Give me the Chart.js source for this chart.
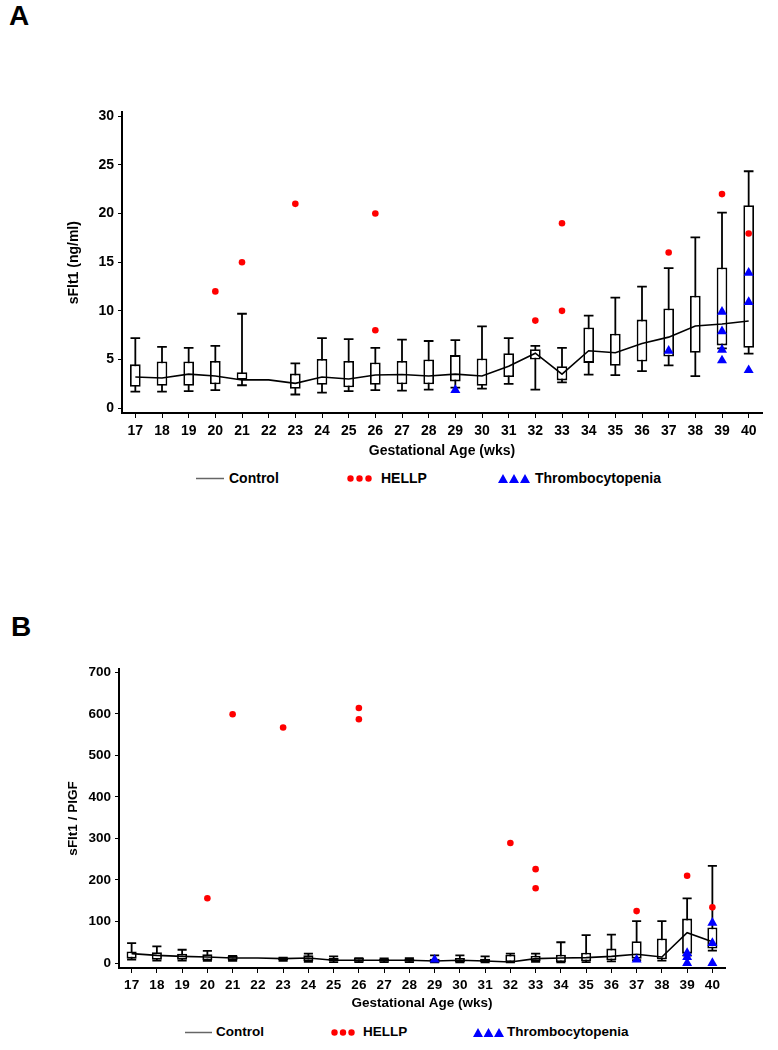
<!DOCTYPE html>
<html>
<head>
<meta charset="utf-8">
<script src="https://cdn.jsdelivr.net/npm/chart.js@4.4.1/dist/chart.umd.min.js"></script>
<style>
  body { margin: 0; background: #fff; width: 778px; height: 1050px; position: relative; font-family: "Liberation Sans", Arial, sans-serif; }
  .panel { position: absolute; font-weight: bold; font-size: 28px; color: #000; }
  canvas { position: absolute; }
  .legend { position: absolute; left: 0; width: 778px; height: 20px; font-weight: bold; color: #000; white-space: nowrap; }
  .legend span, .legend svg { position: absolute; top: 0; }
</style>
</head>
<body>
<div class="panel" style="left:9px;top:0px;">A</div>
<div class="panel" style="left:11px;top:611px;">B</div>

<canvas id="chartA" width="710" height="365" style="left:60px;top:100px;"></canvas>
<canvas id="chartB" width="680" height="360" style="left:60px;top:655px;"></canvas>

<div class="legend" style="top:470px;font-size:14px;">
  <svg style="left:196px;" width="28" height="17"><line x1="0" y1="8.5" x2="28" y2="8.5" stroke="#666" stroke-width="1.5"/></svg>
  <span style="left:229px;">Control</span>
  <svg style="left:347px;" width="28" height="17"><circle cx="3.5" cy="8.5" r="3.2" fill="#f00"/><circle cx="12.5" cy="8.5" r="3.2" fill="#f00"/><circle cx="21.5" cy="8.5" r="3.2" fill="#f00"/></svg>
  <span style="left:381px;">HELLP</span>
  <svg style="left:498px;" width="34" height="17"><path d="M0 13 L5 4 L10 13 Z M11 13 L16 4 L21 13 Z M22 13 L27 4 L32 13 Z" fill="#00f"/></svg>
  <span style="left:535px;">Thrombocytopenia</span>
</div>
<div class="legend" style="top:1024px;font-size:13.5px;">
  <svg style="left:185px;" width="28" height="17"><line x1="0" y1="8.5" x2="27" y2="8.5" stroke="#666" stroke-width="1.5"/></svg>
  <span style="left:216px;">Control</span>
  <svg style="left:331px;" width="28" height="17"><circle cx="3.5" cy="8.5" r="3.2" fill="#f00"/><circle cx="12" cy="8.5" r="3.2" fill="#f00"/><circle cx="20.5" cy="8.5" r="3.2" fill="#f00"/></svg>
  <span style="left:363px;">HELLP</span>
  <svg style="left:473px;" width="34" height="17"><path d="M0 13 L5 4 L10 13 Z M10.5 13 L15.5 4 L20.5 13 Z M21 13 L26 4 L31 13 Z" fill="#00f"/></svg>
  <span style="left:507px;">Thrombocytopenia</span>
</div>

<script>
const weeks = ['17','18','19','20','21','22','23','24','25','26','27','28','29','30','31','32','33','34','35','36','37','38','39','40'];

// panel A: sFlt1 (ng/ml)
const aWhiskerLow  = [1.7, 1.7, 1.75, 1.85, 2.35, null, 1.4, 1.6, 1.75, 1.85, 1.8, 1.9, 2.1, 2.0, 2.5, 1.9, 2.65, 3.45, 3.4, 3.8, 4.4, 3.3, 6.15, 5.6];
const aQ1          = [2.2, 2.3, 2.3, 2.45, 2.9, null, 2.0, 2.4, 2.15, 2.4, 2.45, 2.45, 2.75, 2.3, 3.2, 5.0, 2.85, 4.65, 4.35, 4.8, 5.3, 5.7, 6.45, 6.2];
const aQ3          = [4.5, 4.8, 4.8, 4.85, 3.7, null, 3.55, 5.05, 4.85, 4.7, 4.85, 5.0, 5.45, 5.1, 5.65, 6.05, 4.3, 8.3, 7.65, 9.1, 10.25, 11.55, 14.45, 20.85];
const aWhiskerHigh = [7.2, 6.3, 6.2, 6.4, 9.7, null, 4.6, 7.2, 7.1, 6.2, 7.05, 6.9, 7.0, 8.4, 7.2, 6.4, 6.2, 9.5, 11.35, 12.5, 14.4, 17.55, 20.1, 24.35];
const aControl     = [3.2, 3.1, 3.5, 3.3, 2.9, 2.9, 2.55, 3.2, 3.0, 3.4, 3.45, 3.3, 3.5, 3.3, 4.3, 5.65, 3.5, 5.9, 5.7, 6.65, 7.3, 8.45, 8.65, 8.95];
const aHellpWeek   = ['20', '21', '23', '26', '26', '32', '33', '33', '37', '39', '40'];
const aHellpValue  = [12, 15, 21, 20, 8, 9, 19, 10, 16, 22, 17.95];
const aThrombWeek  = ['29', '37', '39', '39', '39', '39', '40', '40', '40'];
const aThrombValue = [1.85, 5.9, 9.9, 7.9, 6.0, 4.9, 13.9, 10.9, 3.9];
const aTicks = [0, 5, 10, 15, 20, 25, 30];

// panel B: sFlt1 / PlGF
const bWhiskerLow  = [8, 6, 6, 5, 5, null, 5, 3, 2, 2, 2, 2, 1.5, 1.5, 1.5, 1.5, 3, 1.5, 2, 4, 7, 6, 18, 30];
const bQ1          = [10.5, 8, 8, 6.5, 6.5, null, 6.5, 5, 4, 3, 3, 3, 2.5, 2.5, 2.5, 2.5, 5, 2.5, 4, 6.5, 10.5, 9, 22.5, 34.7];
const bQ3          = [28, 26, 22.5, 21, 17, null, 13, 18.5, 12, 12, 10, 10, 10.5, 12, 10.5, 20, 17.7, 20, 25, 34.7, 52.4, 59, 107, 85.5];
const bWhiskerHigh = [48, 40, 32, 29, 17, null, 13, 22.5, 16, 12, 11, 12, 18.5, 18.5, 16, 22.5, 22.5, 50, 67, 68.5, 100.8, 100.8, 155.6, 234];
const bControl     = [22.5, 18.5, 16, 14.5, 12, 12, 10.5, 12, 6.5, 6.5, 6.5, 6.5, 5, 6.5, 5, 2.5, 10.5, 12, 13, 16, 21, 14.5, 73, 51];
const bHellpWeek   = ['20', '21', '23', '26', '26', '32', '33', '33', '37', '39', '40'];
const bHellpValue  = [156, 599, 567, 614, 587, 289, 226, 180, 125, 210, 134];
const bThrombWeek  = ['29', '37', '39', '39', '39', '40', '40', '40'];
const bThrombValue = [8, 8, 24, 14, 0, 97, 48, 0];
const bTicks = [0, 100, 200, 300, 400, 500, 600, 700];

// whiskers with caps, drawn under the boxes
const whiskerPlugin = {
  id: 'whiskers',
  beforeDatasetsDraw(chart) {
    const o = chart.options.plugins.whiskers;
    const meta = chart.getDatasetMeta(3);
    const y = chart.scales.y;
    const ctx = chart.ctx;
    ctx.save();
    ctx.strokeStyle = '#000';
    ctx.lineWidth = o.lineWidth;
    meta.data.forEach((bar, i) => {
      if (o.low[i] == null) return;
      const x = bar.x;
      const half = bar.width / 2 - 0.5;
      const yl = y.getPixelForValue(o.low[i]);
      const yh = y.getPixelForValue(o.high[i]);
      ctx.beginPath();
      ctx.moveTo(x, yl); ctx.lineTo(x, yh);
      ctx.moveTo(x - half, yh); ctx.lineTo(x + half, yh);
      ctx.moveTo(x - half, yl); ctx.lineTo(x + half, yl);
      ctx.stroke();
    });
    ctx.restore();
  }
};

function pts(weeksArr, vals) {
  return weeksArr.map((w, i) => ({ x: w, y: vals[i] }));
}

function makeChart(id, cfg) {
  const font = { family: '"Liberation Sans", Arial, sans-serif', weight: 'bold', size: cfg.fontSize };
  return new Chart(document.getElementById(id), {
    type: 'bar',
    data: {
      labels: weeks,
      datasets: [
        { type: 'scatter', label: 'HELLP', data: pts(cfg.hellpWeek, cfg.hellpValue),
          pointStyle: 'circle', pointRadius: 3.3, backgroundColor: '#ff0000', borderWidth: 0, order: 0 },
        { type: 'scatter', label: 'Thrombocytopenia', data: pts(cfg.thrombWeek, cfg.thrombValue),
          pointStyle: 'triangle', pointRadius: 5.8, backgroundColor: '#0000ff', borderWidth: 0, order: 1 },
        { type: 'line', label: 'Control', data: cfg.control, borderColor: '#000', borderWidth: 1.6,
          pointRadius: 0, tension: 0, fill: false, order: 2 },
        { type: 'bar', label: 'box', data: cfg.q1.map((v, i) => v == null ? null : [v, cfg.q3[i]]),
          backgroundColor: '#fff', borderColor: '#000', borderWidth: 1.8, borderSkipped: false,
          barPercentage: 0.4, categoryPercentage: 1, order: 3 }
      ]
    },
    options: {
      responsive: false,
      animation: false,
      layout: { padding: cfg.padding },
      plugins: {
        legend: { display: false },
        tooltip: { enabled: false },
        whiskers: { low: cfg.low, high: cfg.high, lineWidth: 1.8 }
      },
      scales: {
        x: {
          type: 'category',
          offset: true,
          grid: { display: true, drawOnChartArea: false, drawTicks: true, tickLength: 5, color: '#000', offset: false },
          border: { display: true, color: '#000', width: 2 },
          ticks: { color: '#000', font: font, padding: cfg.xTickPad, maxRotation: 0, autoSkip: false },
          title: { display: true, text: 'Gestational Age (wks)', color: '#000', font: font, padding: { top: 0, bottom: cfg.xTitlePad } },
          afterFit: s => { s.height = cfg.xHeight; }
        },
        y: {
          min: cfg.yMin, max: cfg.yMax,
          afterBuildTicks: s => { s.ticks = cfg.ticks.map(v => ({ value: v })); },
          grid: { display: true, drawOnChartArea: false, drawTicks: true, tickLength: 4, color: '#000' },
          border: { display: true, color: '#000', width: 2 },
          ticks: { color: '#000', font: font, padding: 4 },
          title: { display: true, text: cfg.yTitle, color: '#000', font: font, padding: { top: cfg.yTitlePad, bottom: 0 } },
          afterFit: s => { s.width = cfg.yWidth; }
        }
      }
    },
    plugins: [whiskerPlugin]
  });
}

makeChart('chartA', {
  fontSize: 14, yTitle: 'sFlt1 (ng/ml)', yMin: -0.5, yMax: 30.4, ticks: aTicks,
  low: aWhiskerLow, high: aWhiskerHigh, q1: aQ1, q3: aQ3, control: aControl,
  hellpWeek: aHellpWeek, hellpValue: aHellpValue, thrombWeek: aThrombWeek, thrombValue: aThrombValue,
  padding: { top: 11, right: 8, left: 0, bottom: 0 },
  xHeight: 52, yWidth: 62, xTickPad: 5, xTitlePad: 5, yTitlePad: 6
});

makeChart('chartB', {
  fontSize: 13.5, yTitle: 'sFlt1 / PlGF', yMin: -12, yMax: 708, ticks: bTicks,
  low: bWhiskerLow, high: bWhiskerHigh, q1: bQ1, q3: bQ3, control: bControl,
  hellpWeek: bHellpWeek, hellpValue: bHellpValue, thrombWeek: bThrombWeek, thrombValue: bThrombValue,
  padding: { top: 14, right: 15, left: 0, bottom: 0 },
  xHeight: 47, yWidth: 59, xTickPad: 4, xTitlePad: 4, yTitlePad: 5
});
</script>
</body>
</html>
